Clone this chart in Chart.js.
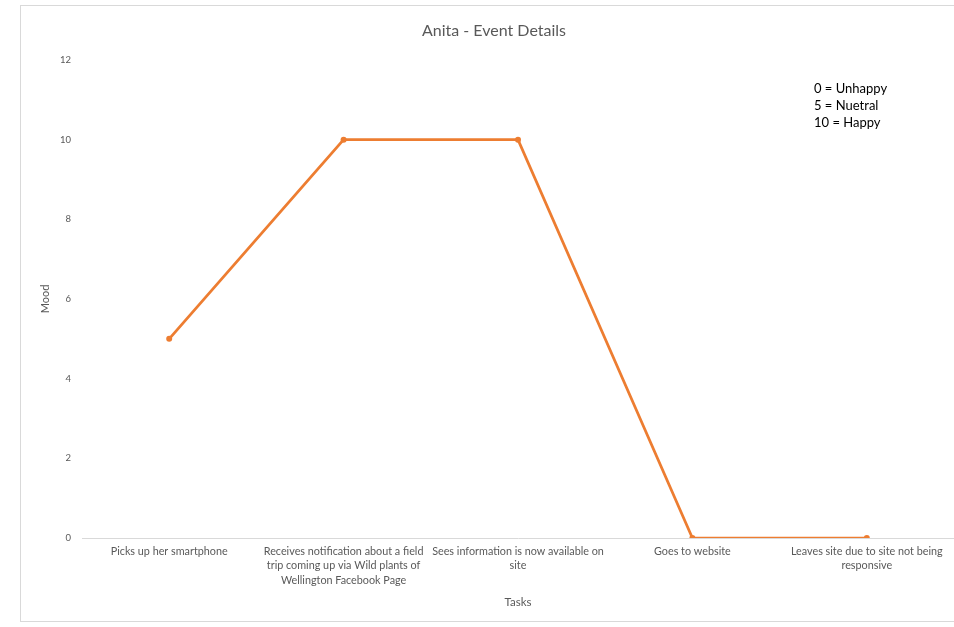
<!DOCTYPE html>
<html>
<head>
<meta charset="utf-8">
<script src="https://cdn.jsdelivr.net/npm/chart.js@4/dist/chart.umd.min.js"></script>
<style>
  html, body { margin: 0; padding: 0; background: #ffffff; }
  #wrap { width: 954px; height: 627px; position: relative; }
</style>
</head>
<body>
<div id="wrap"><canvas id="chart" width="954" height="627"></canvas></div>
<script>
// Steps in Anita's journey and her mood at each one
const tasks = [
  ["Picks up her smartphone"],
  ["Receives notification about a field", "trip coming up via Wild plants of", "Wellington Facebook Page"],
  ["Sees information is now available on", "site"],
  ["Goes to website"],
  ["Leaves site due to site not being", "responsive"]
];
const mood = [5, 10, 10, 0, 0];
const moodKey = ["0 = Unhappy", "5 = Nuetral", "10 = Happy"];
const chartTitle = "Anita - Event Details";

const FONT = "Lato, 'Liberation Sans', sans-serif";
const GREY = "#595959";

// White page, thin frame, the title and the mood key
const decorations = {
  id: "decorations",
  beforeDraw(chart) {
    const c = chart.ctx;
    c.save();
    c.fillStyle = "#ffffff";
    c.fillRect(0, 0, chart.width, chart.height);
    c.strokeStyle = "#d9d9d9";
    c.lineWidth = 1;
    c.strokeRect(20.5, 5.5, 948, 616);
    c.restore();
  },
  afterDraw(chart) {
    const c = chart.ctx;
    c.save();
    c.textBaseline = "middle";
    // the frame runs past the right edge of the page, so the title sits at its centre
    c.fillStyle = GREY;
    c.font = "16px " + FONT;
    c.textAlign = "center";
    c.fillText(chartTitle, 494, 31);
    c.fillStyle = "#000000";
    c.font = "13px " + FONT;
    c.textAlign = "left";
    moodKey.forEach((t, i) => c.fillText(t, 814, 89 + i * 17));
    c.restore();
  }
};

new Chart(document.getElementById("chart"), {
  type: "line",
  data: {
    labels: tasks,
    datasets: [{
      label: "Mood",
      data: mood,
      borderColor: "#ED7D31",
      backgroundColor: "#ED7D31",
      borderWidth: 2.75,
      pointRadius: 3,
      pointHoverRadius: 3,
      pointBorderWidth: 0,
      tension: 0,
      fill: false
    }]
  },
  options: {
    responsive: false,
    animation: false,
    devicePixelRatio: 1,
    layout: { autoPadding: false, padding: { left: 0, right: 0, top: 60, bottom: 0 } },
    plugins: {
      legend: { display: false },
      tooltip: { enabled: false },
      title: { display: false }
    },
    scales: {
      x: {
        type: "category",
        offset: true,
        grid: { display: false, drawTicks: false },
        border: { display: true, color: "#d9d9d9", width: 1 },
        ticks: {
          color: GREY,
          font: { family: FONT, size: 10.8, lineHeight: 1.34 },
          padding: 6,
          maxRotation: 0,
          autoSkip: false
        },
        title: {
          display: true,
          text: "Tasks",
          color: GREY,
          font: { family: FONT, size: 11.5 },
          padding: { top: 4, bottom: 18 }
        },
        afterFit(scale) { scale.height = 89; }
      },
      y: {
        min: 0,
        max: 12,
        grid: { display: false, drawTicks: false },
        border: { display: false },
        ticks: {
          stepSize: 2,
          color: GREY,
          font: { family: FONT, size: 9.5 },
          padding: 11
        },
        title: {
          display: true,
          text: "Mood",
          color: GREY,
          font: { family: FONT, size: 11 },
          padding: { top: 39, bottom: 4 }
        },
        afterFit(scale) { scale.width = 82; }
      }
    }
  },
  plugins: [decorations]
});
</script>
</body>
</html>
